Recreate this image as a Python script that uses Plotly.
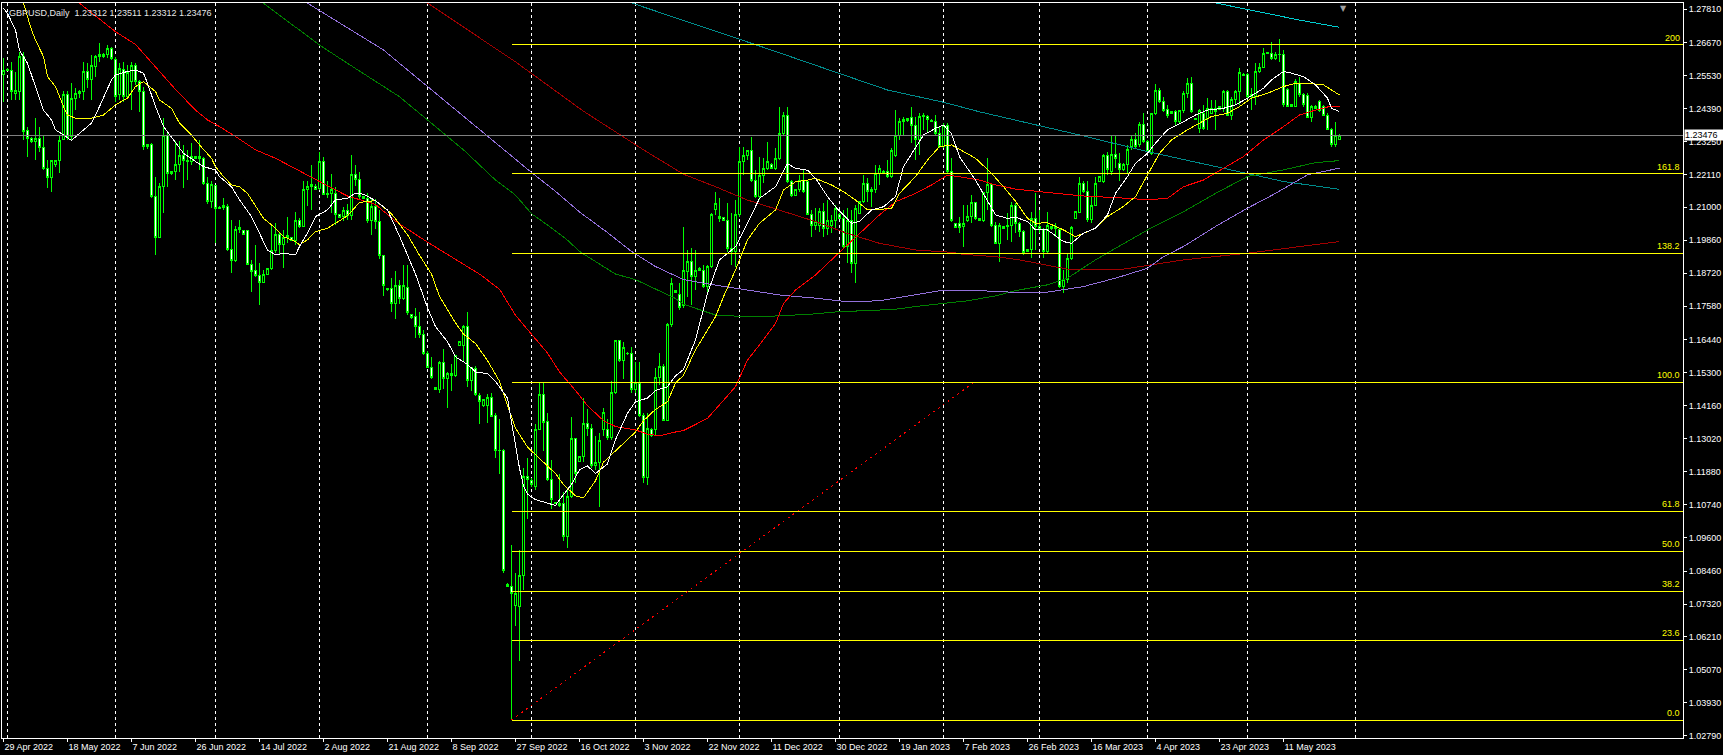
import plotly.graph_objects as go

# ---------------- candle data (bar index 0 = 29 Apr 2022, daily incl. Sunday bars) ----------------
open_ = [
1.2555,1.2572,1.2572,1.2492,1.2498,1.2618,1.2362,1.2337,1.2326,1.2337,
1.2306,1.2234,1.2203,1.2245,1.2259,1.2331,1.2488,1.2343,1.2475,1.2490,
1.2498,1.2567,1.2538,1.2584,1.2618,1.2624,1.2624,1.2647,1.2609,1.2486,
1.2575,1.2480,1.2532,1.2589,1.2532,1.2498,1.2310,1.2316,1.2136,1.1996,
1.2170,1.2348,1.2216,1.2222,1.2245,1.2276,1.2262,1.2257,1.2268,1.2274,
1.2268,1.2182,1.2119,1.2173,1.2096,1.2099,1.2102,1.1952,1.1916,1.2021,
1.2018,1.2018,1.1901,1.1881,1.1864,1.1841,1.1869,1.1889,1.1949,1.2004,
1.1970,1.1996,1.1996,1.1985,1.2053,1.2033,1.2161,1.2170,1.2170,1.2165,
1.2257,1.2142,1.2147,1.2147,1.2073,1.2066,1.2087,1.2070,1.2213,1.2196,
1.2135,1.2129,1.2053,1.2103,1.2051,1.1932,1.1820,1.1820,1.1766,1.1830,
1.1785,1.1824,1.1730,1.1724,1.1690,1.1662,1.1597,1.1548,1.1478,1.1473,
1.1565,1.1509,1.1526,1.1519,1.1623,1.1623,1.1688,1.1504,1.1545,1.1452,
1.1416,1.1416,1.1444,1.1383,1.1260,1.1263,1.0800,1.0794,1.0726,1.0723,
1.0832,1.1172,1.1157,1.1137,1.1335,1.1455,1.1361,1.1163,1.1081,1.1079,
1.1079,1.0966,1.1102,1.1302,1.1224,1.1241,1.1354,1.1338,1.1208,1.1221,
1.1335,1.1335,1.1306,1.1461,1.1639,1.1571,1.1597,1.1595,1.1470,1.1491,
1.1383,1.1169,1.1335,1.1332,1.1513,1.1552,1.1366,1.1694,1.1811,1.1798,
1.1760,1.1877,1.1912,1.1860,1.1889,1.1883,1.1826,1.1895,1.2090,1.2067,
1.2063,1.2055,1.1946,1.1946,1.2073,1.2256,1.2279,1.2296,1.2193,1.2136,
1.2210,1.2233,1.2248,1.2233,1.2268,1.2354,1.2417,1.2187,1.2141,1.2159,
1.2193,1.2187,1.2073,1.2038,1.2038,1.2084,1.2027,1.2038,1.2055,1.2073,
1.2061,1.1963,1.2055,1.1906,1.2078,1.2118,1.2182,1.2153,1.2159,1.2216,
1.2224,1.2222,1.2205,1.2279,1.2348,1.2394,1.2397,1.2409,1.2382,1.2331,
1.2411,1.2413,1.2397,1.2394,1.2354,1.2308,1.2382,1.2222,1.2044,1.2044,
1.2032,1.2055,1.2069,1.2115,1.2061,1.2053,1.2149,1.2176,1.2038,1.1975,
1.2032,1.2032,1.2038,1.2107,1.2044,1.2015,1.1947,1.1955,1.2061,1.2033,
1.2021,1.1947,1.2033,1.2027,1.2023,1.1826,1.1849,1.1924,1.2061,1.2081,
1.2180,1.2153,1.2056,1.2107,1.2188,1.2188,1.2276,1.2222,1.2280,1.2251,
1.2228,1.2245,1.2308,1.2331,1.2314,1.2386,1.2326,1.2285,1.2421,1.2500,
1.2463,1.2437,1.2429,1.2429,1.2394,1.2432,1.2492,1.2524,1.2406,1.2371,
1.2423,1.2406,1.2423,1.2440,1.2437,1.2440,1.2498,1.2417,1.2469,1.2498,
1.2557,1.2555,1.2480,1.2480,1.2567,1.2581,1.2630,1.2630,1.2612,1.2624,
1.2627,1.2506,1.2452,1.2448,1.2526,1.2486,1.2483,1.2409,1.2440,1.2463,
1.2448,1.2417,1.2368,1.2316,1.23312]

high = [
1.2612,1.2580,1.2601,1.2565,1.2635,1.2635,1.2377,1.2340,1.2406,1.2377,
1.2343,1.2262,1.2262,1.2262,1.2343,1.2498,1.2498,1.2526,1.2509,1.2503,
1.2601,1.2595,1.2624,1.2624,1.2664,1.2630,1.2658,1.2650,1.2618,1.2595,
1.2601,1.2589,1.2601,1.2597,1.2538,1.2515,1.2316,1.2320,1.2205,1.2182,
1.2406,1.2354,1.2225,1.2326,1.2326,1.2314,1.2297,1.2320,1.2276,1.2331,
1.2274,1.2205,1.2188,1.2176,1.2102,1.2130,1.2110,1.2056,1.2033,1.2056,
1.2021,1.2021,1.1918,1.1970,1.1906,1.1883,1.1889,1.2033,1.2044,1.2015,
1.2021,1.2067,1.1998,1.2084,1.2061,1.2188,1.2188,1.2245,1.2178,1.2291,
1.2274,1.2188,1.2214,1.2170,1.2075,1.2100,1.2110,1.2278,1.2245,1.2219,
1.2138,1.2148,1.2129,1.2129,1.2090,1.1934,1.1822,1.1856,1.1880,1.1850,
1.1902,1.1902,1.1733,1.1753,1.1737,1.1675,1.1604,1.1584,1.1481,1.1571,
1.1610,1.1532,1.1558,1.1591,1.1636,1.1694,1.1737,1.1548,1.1552,1.1461,
1.1440,1.1455,1.1461,1.1390,1.1370,1.1266,1.0805,1.0936,1.0838,1.0917,
1.1202,1.1234,1.1165,1.1351,1.1494,1.1495,1.1390,1.1228,1.1085,1.1182,
1.1118,1.1131,1.1377,1.1306,1.1241,1.1442,1.1403,1.1351,1.1312,1.1322,
1.1409,1.1370,1.1500,1.1643,1.1639,1.1636,1.1600,1.1617,1.1565,1.1565,
1.1390,1.1390,1.1340,1.1545,1.1597,1.1558,1.1701,1.1856,1.1815,1.1837,
1.2031,1.1952,1.1958,1.1952,1.1892,1.1900,1.1900,1.2078,1.2153,1.2130,
1.2065,1.2113,1.2078,1.2124,1.2308,1.2308,1.2298,1.2342,1.2227,1.2273,
1.2268,1.2325,1.2250,1.2302,1.2446,1.2428,1.2446,1.2193,1.2160,1.2210,
1.2227,1.2193,1.2090,1.2095,1.2095,1.2113,1.2124,1.2073,1.2107,1.2080,
1.2090,1.2095,1.2090,1.2107,1.2120,1.2210,1.2199,1.2170,1.2245,1.2245,
1.2226,1.2262,1.2302,1.2434,1.2405,1.2411,1.2407,1.2446,1.2411,1.2423,
1.2423,1.2417,1.2402,1.2417,1.2377,1.2388,1.2388,1.2268,1.2046,1.2067,
1.2107,1.2107,1.2141,1.2118,1.2063,1.2153,1.2268,1.2182,1.2050,1.2046,
1.2034,1.2078,1.2118,1.2113,1.2050,1.2021,1.1955,1.2084,1.2147,1.2090,
1.2027,1.2084,1.2035,1.2046,1.2027,1.1883,1.1941,1.2033,1.2084,1.2205,
1.2188,1.2188,1.2135,1.2205,1.2205,1.2283,1.2291,1.2343,1.2343,1.2285,
1.2251,1.2314,1.2348,1.2354,1.2394,1.2423,1.2330,1.2423,1.2523,1.2509,
1.2480,1.2452,1.2431,1.2434,1.2434,1.2498,1.2544,1.2549,1.2408,1.2437,
1.2452,1.2475,1.2469,1.2469,1.2448,1.2503,1.2503,1.2480,1.2503,1.2578,
1.2560,1.2561,1.2509,1.2595,1.2595,1.2647,1.2634,1.2668,1.2635,1.2678,
1.2641,1.2509,1.2454,1.2540,1.2549,1.2492,1.2492,1.2452,1.2450,1.2469,
1.2452,1.2423,1.2371,1.2394,1.23511]

low = [
1.2463,1.2569,1.2469,1.2469,1.2469,1.2331,1.2274,1.2322,1.2262,1.2291,
1.2228,1.2165,1.2153,1.2239,1.2216,1.2331,1.2331,1.2331,1.2434,1.2475,
1.2469,1.2509,1.2469,1.2549,1.2601,1.2615,1.2612,1.2607,1.2463,1.2469,
1.2463,1.2475,1.2434,1.2521,1.2429,1.2297,1.2300,1.2130,1.1935,1.1993,
1.2079,1.2170,1.2210,1.2193,1.2222,1.2165,1.2193,1.2245,1.2265,1.2228,
1.2176,1.2110,1.2096,1.1975,1.2093,1.2090,1.1947,1.1872,1.1912,1.2010,
1.2002,1.1901,1.1809,1.1860,1.1763,1.1838,1.1866,1.1883,1.1941,1.1935,
1.1889,1.1975,1.1985,1.1970,1.2027,1.2030,1.2102,1.2090,1.2159,1.2159,
1.2142,1.2130,1.2079,1.2038,1.2061,1.2051,1.2055,1.2057,1.2174,1.2129,
1.2129,1.2044,1.2005,1.2025,1.1921,1.1792,1.1812,1.1740,1.1716,1.1766,
1.1779,1.1727,1.1715,1.1650,1.1649,1.1591,1.1545,1.1506,1.1470,1.1461,
1.1474,1.1409,1.1468,1.1513,1.1620,1.1571,1.1481,1.1468,1.1448,1.1351,
1.1410,1.1357,1.1377,1.1234,1.1182,1.0839,1.0792,1.0334,1.0658,1.0537,
1.0781,1.1027,1.1137,1.1124,1.1332,1.1260,1.1157,1.1059,1.1076,1.1066,
1.0949,1.0926,1.1098,1.1150,1.1222,1.1221,1.1312,1.1202,1.1195,1.1066,
1.1312,1.1299,1.1299,1.1455,1.1565,1.1506,1.1590,1.1461,1.1461,1.1377,
1.1150,1.1144,1.1309,1.1312,1.1487,1.1364,1.1364,1.1688,1.1805,1.1746,
1.1751,1.1791,1.1763,1.1814,1.1880,1.1820,1.1808,1.1889,1.2073,1.2050,
1.2053,1.1946,1.1900,1.1895,1.2067,1.2210,1.2262,1.2187,1.2130,1.2124,
1.2182,1.2227,1.2233,1.2227,1.2262,1.2348,1.2182,1.2136,1.2141,1.2153,
1.2147,1.2073,1.1998,1.2021,1.2015,1.1998,1.2004,1.2009,1.2021,1.2061,
1.1958,1.1906,1.1872,1.1837,1.2075,1.2113,1.2118,1.2101,1.2147,1.2176,
1.2214,1.2199,1.2199,1.2273,1.2331,1.2348,1.2394,1.2319,1.2262,1.2279,
1.2365,1.2354,1.2392,1.2348,1.2302,1.2302,1.2216,1.2050,1.2030,1.2009,
1.1963,1.2050,1.2044,1.2055,1.2053,1.2050,1.2090,1.2032,1.1973,1.1912,
1.2027,1.1987,1.1981,1.2009,1.1998,1.1935,1.1945,1.1924,1.1952,1.2010,
1.1924,1.1941,1.2021,1.1998,1.1820,1.1803,1.1838,1.1918,1.2058,1.2079,
1.2147,1.2050,1.2044,1.2102,1.2186,1.2182,1.2211,1.2211,1.2234,1.2188,
1.2225,1.2216,1.2297,1.2302,1.2308,1.2320,1.2283,1.2280,1.2417,1.2457,
1.2429,1.2406,1.2420,1.2383,1.2389,1.2423,1.2475,1.2423,1.2400,1.2354,
1.2366,1.2366,1.2423,1.2366,1.2434,1.2429,1.2412,1.2400,1.2452,1.2452,
1.2550,1.2475,1.2434,1.2452,1.2561,1.2578,1.2628,1.2607,1.2607,1.2601,
1.2446,1.2443,1.2446,1.2446,1.2480,1.2446,1.2406,1.2394,1.2438,1.2429,
1.2412,1.2366,1.2308,1.2308,1.23312]

close = [
1.2572,1.2575,1.2498,1.2503,1.2618,1.2360,1.2337,1.2326,1.2337,1.2306,
1.2234,1.2203,1.2259,1.2259,1.2328,1.2486,1.2340,1.2475,1.2490,1.2498,
1.2567,1.2538,1.2589,1.2618,1.2627,1.2618,1.2647,1.2610,1.2480,1.2578,
1.2480,1.2563,1.2589,1.2532,1.2498,1.2308,1.2314,1.2136,1.1996,1.2170,
1.2348,1.2216,1.2222,1.2245,1.2276,1.2262,1.2257,1.2274,1.2274,1.2268,
1.2182,1.2119,1.2176,1.2096,1.2099,1.2104,1.1952,1.1916,1.2021,1.2030,
1.2004,1.1901,1.1878,1.1864,1.1841,1.1869,1.1889,1.1949,1.2004,1.1970,
1.1996,1.2002,1.1985,1.2053,1.2033,1.2161,1.2170,1.2178,1.2159,1.2257,
1.2142,1.2147,1.2159,1.2073,1.2065,1.2087,1.2070,1.2213,1.2196,1.2135,
1.2129,1.2053,1.2103,1.2051,1.1934,1.1830,1.1815,1.1766,1.1830,1.1785,
1.1830,1.1737,1.1720,1.1690,1.1662,1.1597,1.1548,1.1513,1.1473,1.1565,
1.1509,1.1526,1.1519,1.1587,1.1636,1.1688,1.1504,1.1548,1.1455,1.1429,
1.1438,1.1444,1.1379,1.1260,1.1263,1.0848,1.0794,1.0768,1.0769,1.0832,
1.1172,1.1163,1.1145,1.1335,1.1455,1.1357,1.1163,1.1092,1.1079,1.1072,
1.0966,1.1102,1.1302,1.1182,1.1241,1.1354,1.1338,1.1208,1.1221,1.1297,
1.1392,1.1306,1.1461,1.1639,1.1571,1.1617,1.1595,1.1470,1.1494,1.1383,
1.1169,1.1338,1.1312,1.1513,1.1552,1.1366,1.1694,1.1837,1.1805,1.1753,
1.1882,1.1912,1.1860,1.1883,1.1883,1.1826,1.1895,1.2073,1.2113,1.2061,
1.2055,1.1958,1.1958,1.2073,1.2256,1.2279,1.2296,1.2193,1.2136,1.2210,
1.2233,1.2256,1.2233,1.2268,1.2354,1.2417,1.2187,1.2141,1.2159,1.2193,
1.2153,1.2073,1.2038,1.2050,1.2084,1.2027,1.2055,1.2055,1.2095,1.2061,
1.1963,1.2055,1.1906,1.2095,1.2118,1.2182,1.2153,1.2159,1.2216,1.2233,
1.2216,1.2205,1.2296,1.2348,1.2394,1.2400,1.2405,1.2382,1.2331,1.2411,
1.2417,1.2400,1.2394,1.2354,1.2308,1.2382,1.2222,1.2055,1.2030,1.2030,
1.2044,1.2069,1.2115,1.2061,1.2053,1.2149,1.2176,1.2038,1.1975,1.2038,
1.2027,1.2038,1.2107,1.2044,1.2015,1.1945,1.1955,1.2061,1.2033,1.2021,
1.1947,1.2038,1.2027,1.2033,1.1826,1.1849,1.1924,1.2030,1.2084,1.2180,
1.2153,1.2056,1.2107,1.2180,1.2205,1.2276,1.2228,1.2280,1.2268,1.2228,
1.2245,1.2297,1.2331,1.2308,1.2386,1.2326,1.2290,1.2421,1.2500,1.2463,
1.2434,1.2417,1.2423,1.2394,1.2432,1.2492,1.2524,1.2429,1.2400,1.2434,
1.2371,1.2440,1.2440,1.2429,1.2446,1.2498,1.2417,1.2471,1.2498,1.2563,
1.2552,1.2480,1.2486,1.2567,1.2581,1.2630,1.2632,1.2612,1.2624,1.2627,
1.2452,1.2446,1.2448,1.2532,1.2486,1.2452,1.2409,1.2446,1.2446,1.2434,
1.2414,1.2368,1.2316,1.2348,1.23476]

# ---------------- moving averages (bar index, price) ----------------
white_idx = [0,1,3,4,6,8,10,12,13,15,17,19,22,24,27,28,31,33,35,36,38,40,43,45,48,50,53,54,57,59,62,64,66,68,70,73,74,76,78,81,83,86,88,90,93,96,99,103,106,108,111,113,116,118,121,123,126,127,128,129,130,131,133,135,138,139,142,144,146,148,151,153,156,158,161,163,166,168,170,173,176,179,183,186,189,193,196,198,201,203,206,208,212,214,217,220,223,225,228,230,233,235,237,239,243,246,248,251,253,256,258,261,265,267,270,273,276,278,281,283,286,288,291,295,298,301,305,308,311,315,317,320,322,325,328,331,332,334]
white_val = [1.2785,1.2767,1.2710,1.2640,1.2595,1.2515,1.2434,1.2400,1.2366,1.2348,1.2329,1.2354,1.2389,1.2446,1.2538,1.2555,1.2567,1.2572,1.2561,1.2526,1.2446,1.2377,1.2320,1.2285,1.2257,1.2239,1.2228,1.2205,1.2170,1.2125,1.2067,1.2010,1.1952,1.1935,1.1941,1.1935,1.1964,1.2010,1.2067,1.2090,1.2125,1.2130,1.2148,1.2144,1.2122,1.2090,1.2000,1.1869,1.1753,1.1688,1.1636,1.1584,1.1558,1.1532,1.1526,1.1500,1.1442,1.1360,1.1280,1.1200,1.1140,1.1111,1.1092,1.1085,1.1072,1.1092,1.1144,1.1195,1.1208,1.1182,1.1215,1.1299,1.1390,1.1429,1.1442,1.1468,1.1481,1.1519,1.1540,1.1642,1.1803,1.1918,1.1963,1.2044,1.2130,1.2170,1.2250,1.2233,1.2227,1.2199,1.2136,1.2101,1.2044,1.2050,1.2090,1.2101,1.2136,1.2239,1.2302,1.2348,1.2371,1.2382,1.2354,1.2273,1.2193,1.2124,1.2073,1.2061,1.2065,1.2050,1.2021,1.2021,1.1981,1.1975,1.2010,1.2027,1.2073,1.2147,1.2205,1.2251,1.2285,1.2320,1.2366,1.2394,1.2417,1.2434,1.2440,1.2452,1.2475,1.2509,1.2538,1.2567,1.2561,1.2549,1.2521,1.2475,1.2440,1.2429]

yellow_idx = [5,7,8,10,11,13,15,16,18,22,25,28,31,33,35,36,38,39,42,44,47,49,52,53,55,57,59,61,63,65,68,70,73,74,76,78,81,83,86,89,93,97,101,104,107,109,113,115,118,121,124,126,128,131,134,138,140,143,145,148,150,153,155,158,160,163,166,168,170,173,178,180,183,186,189,193,195,198,201,203,207,210,213,216,219,222,224,228,231,234,237,240,243,247,250,253,256,258,261,265,268,271,273,276,280,283,286,289,292,296,299,302,306,309,312,316,320,323,326,330,332,334]
yellow_val = [1.2802,1.2710,1.2675,1.2618,1.2549,1.2515,1.2446,1.2417,1.2406,1.2406,1.2417,1.2452,1.2475,1.2515,1.2532,1.2521,1.2498,1.2469,1.2440,1.2389,1.2348,1.2314,1.2268,1.2239,1.2205,1.2176,1.2170,1.2147,1.2102,1.2061,1.2027,1.1998,1.1981,1.1970,1.1987,1.2015,1.2027,1.2044,1.2070,1.2116,1.2122,1.2077,1.2005,1.1934,1.1869,1.1792,1.1701,1.1662,1.1630,1.1571,1.1500,1.1416,1.1338,1.1273,1.1234,1.1182,1.1144,1.1105,1.1098,1.1157,1.1221,1.1260,1.1286,1.1325,1.1364,1.1403,1.1429,1.1494,1.1520,1.1608,1.1722,1.1791,1.1883,1.1987,1.2044,1.2090,1.2159,1.2187,1.2193,1.2199,1.2176,1.2153,1.2124,1.2090,1.2092,1.2095,1.2147,1.2205,1.2262,1.2308,1.2314,1.2291,1.2268,1.2216,1.2170,1.2120,1.2061,1.2044,1.2046,1.2021,1.1998,1.2015,1.2027,1.2067,1.2102,1.2136,1.2211,1.2285,1.2331,1.2366,1.2389,1.2412,1.2423,1.2446,1.2475,1.2492,1.2515,1.2526,1.2526,1.2521,1.2503,1.2486]

red_idx = [19,28,33,38,43,48,51,54,58,63,68,72,75,79,83,86,93,98,106,112,119,124,128,132,136,139,143,146,150,153,158,161,164,168,170,176,179,183,186,189,193,195,198,203,207,211,214,219,223,228,232,236,240,244,248,253,261,270,281,286,291,295,300,305,310,315,320,324,328,332,334]
red_val = [1.2802,1.2704,1.2660,1.2584,1.2505,1.2434,1.2400,1.2377,1.2343,1.2297,1.2268,1.2239,1.2216,1.2188,1.2159,1.2138,1.2109,1.2051,1.1979,1.1928,1.1869,1.1817,1.1727,1.1662,1.1597,1.1532,1.1468,1.1416,1.1364,1.1344,1.1332,1.1318,1.1312,1.1325,1.1330,1.1372,1.1418,1.1481,1.1573,1.1625,1.1699,1.1768,1.1814,1.1866,1.1918,1.1969,1.2009,1.2073,1.2118,1.2147,1.2176,1.2210,1.2202,1.2193,1.2176,1.2162,1.2150,1.2138,1.2130,1.2125,1.2130,1.2170,1.2193,1.2234,1.2274,1.2331,1.2377,1.2417,1.2434,1.2448,1.2448]

maroon_idx = [106,128,145,160,170,178,186,194,203,211,219,228,237,240,248,254,266,280,295,311,334]
maroon_val = [1.2803,1.2600,1.2430,1.2297,1.2213,1.2170,1.2124,1.2090,1.2050,1.2009,1.1975,1.1952,1.1944,1.1937,1.1929,1.1918,1.1886,1.1886,1.1918,1.1941,1.1981]

green_idx = [65,74,79,86,99,115,119,123,128,132,136,141,144,149,153,158,163,168,170,178,186,194,203,209,216,223,229,235,241,248,253,261,266,273,280,286,295,303,311,320,328,334]
green_val = [1.2802,1.2710,1.2658,1.2595,1.2480,1.2297,1.2245,1.2193,1.2141,1.2077,1.2038,1.1986,1.1947,1.1902,1.1869,1.1850,1.1817,1.1785,1.1765,1.1728,1.1722,1.1725,1.1732,1.1740,1.1743,1.1748,1.1759,1.1768,1.1777,1.1794,1.1812,1.1832,1.1855,1.1918,1.1975,1.2021,1.2084,1.2147,1.2205,1.2228,1.2253,1.2260]

purple_idx = [76,87,95,99,125,132,138,144,151,157,163,170,178,186,194,203,211,219,228,235,244,253,261,270,278,286,290,295,303,311,318,326,334]
purple_val = [1.2802,1.2710,1.2641,1.2595,1.2297,1.2219,1.2154,1.2083,1.2012,1.1947,1.1895,1.1850,1.1831,1.1814,1.1797,1.1786,1.1774,1.1777,1.1797,1.1814,1.1812,1.1806,1.1807,1.1826,1.1855,1.1889,1.1929,1.1964,1.2033,1.2096,1.2147,1.2211,1.2234]

teal_idx = [157,190,221,235,244,253,270,286,303,320,334]
teal_val = [1.2803,1.2650,1.2503,1.2461,1.2428,1.2400,1.2345,1.2291,1.2239,1.2188,1.2161]

cyan_idx = [303,324,334]
cyan_val = [1.2803,1.2744,1.2719]

# ---------------- axes ----------------
x_tick_idx = [0,16,32,48,64,80,96,112,128,144,160,176,192,208,224,240,256,272,288,304,320]
x_tick_text = ["29 Apr 2022","18 May 2022","7 Jun 2022","26 Jun 2022","14 Jul 2022","2 Aug 2022",
               "21 Aug 2022","8 Sep 2022","27 Sep 2022","16 Oct 2022","3 Nov 2022","22 Nov 2022",
               "11 Dec 2022","30 Dec 2022","19 Jan 2023","7 Feb 2023","26 Feb 2023","16 Mar 2023",
               "4 Apr 2023","23 Apr 2023","11 May 2023"]
month_start_idx = [1,28,53,79,106,132,158,184,209,235,259,286,311,338]
y_tick_text = ["1.02790","1.03930","1.05070","1.06210","1.07320","1.08460","1.09600","1.10740",
               "1.11880","1.13020","1.14160","1.15300","1.16440","1.17580","1.18720","1.19860",
               "1.21000","1.22110","1.23250","1.24390","1.25530","1.26670","1.27810"]
y_tick_vals = [float(t) for t in y_tick_text]

# ---------------- fibonacci object ----------------
fib_low, fib_high = 1.0333, 1.1496
fib_t_low, fib_t_high = 127, 242.6
fib_ratios = [0.0, 23.6, 38.2, 50.0, 61.8, 100.0, 138.2, 161.8, 200.0]
fib_labels = ["0.0", "23.6", "38.2", "50.0", "61.8", "100.0", "138.2", "161.8", "200"]

last_price = 1.23476
shift_marker_idx = 335
title_text = "GBPUSD,Daily  1.23312 1.23511 1.23312 1.23476"

# ---------------- figure ----------------
W, H = 1723, 755
X_RANGE = [-0.375, 419.875]
Y_RANGE = [1.02710, 1.28028]
FONT = "Liberation Sans"

fig = go.Figure()
fig.add_trace(go.Candlestick(
    x=list(range(len(open_))), open=open_, high=high, low=low, close=close,
    increasing=dict(line=dict(color="#00FF00", width=1), fillcolor="#000000"),
    decreasing=dict(line=dict(color="#00FF00", width=1), fillcolor="#FFFFFF"),
    whiskerwidth=0, hoverinfo="skip", showlegend=False))

for xs, ys, col in [(maroon_idx, maroon_val, "#A00000"), (teal_idx, teal_val, "#008B8B"),
                    (cyan_idx, cyan_val, "#00CED1"), (green_idx, green_val, "#008000"),
                    (purple_idx, purple_val, "#9370DB"), (red_idx, red_val, "#FF0000"),
                    (yellow_idx, yellow_val, "#FFFF00"), (white_idx, white_val, "#FFFFFF")]:
    fig.add_trace(go.Scatter(x=xs, y=ys, mode="lines", line=dict(color=col, width=1),
                             hoverinfo="skip", showlegend=False))

shapes = []
for m in month_start_idx:
    shapes.append(dict(type="line", xref="x", yref="paper", x0=m, x1=m, y0=0, y1=1,
                       line=dict(color="#FFFFFF", width=1, dash="3px,3px"), layer="below"))
shapes.append(dict(type="line", xref="paper", yref="y", x0=0, x1=1, y0=last_price, y1=last_price,
                   line=dict(color="#808080", width=1)))
annotations = []
for r, lab in zip(fib_ratios, fib_labels):
    lvl = fib_low + (fib_high - fib_low) * r / 100.0
    shapes.append(dict(type="line", xref="x", yref="y", x0=fib_t_low, x1=X_RANGE[1], y0=lvl, y1=lvl,
                       line=dict(color="#FFFF00", width=1)))
    annotations.append(dict(xref="paper", yref="y", x=1, y=lvl, xanchor="right", yanchor="bottom",
                            text=lab, showarrow=False, xshift=-1, yshift=0,
                            font=dict(family=FONT, size=9, color="#FFFF00")))
shapes.append(dict(type="line", xref="x", yref="y", x0=fib_t_low, y0=fib_low, x1=fib_t_high, y1=fib_high,
                   line=dict(color="#FF0000", width=1, dash="2px,4px")))

annotations.append(dict(xref="paper", yref="y", x=1, y=last_price, xanchor="left", yanchor="middle",
                        text=last_price.__format__(".5f"), showarrow=False, xshift=1, bgcolor="#FFFFFF",
                        borderpad=0, width=38, align="left",
                        font=dict(family=FONT, size=9, color="#000000")))
annotations.append(dict(xref="paper", yref="paper", x=0, y=1, xanchor="left", yanchor="top",
                        text=title_text, showarrow=False, xshift=5, yshift=-3,
                        font=dict(family=FONT, size=9, color="#E6E6E6")))
annotations.append(dict(xref="x", yref="paper", x=shift_marker_idx, y=1, xanchor="center", yanchor="top",
                        text="\u25BC", showarrow=False, yshift=1,
                        font=dict(family="DejaVu Sans", size=8, color="#A0A0A0")))

fig.update_layout(
    width=W, height=H, autosize=False,
    margin=dict(l=2, r=40, t=3, b=17, pad=0),
    paper_bgcolor="#000000", plot_bgcolor="#000000",
    font=dict(family=FONT, size=9, color="#FFFFFF"),
    showlegend=False, shapes=shapes, annotations=annotations,
    xaxis=dict(range=X_RANGE, showgrid=False, zeroline=False, showline=True, linecolor="#FFFFFF",
               linewidth=1, mirror=True, ticks="outside", ticklen=3, tickcolor="#FFFFFF", tickwidth=1,
               tickvals=x_tick_idx, ticktext=x_tick_text, ticklabelposition="outside right",
               tickfont=dict(family=FONT, size=9, color="#FFFFFF"), rangeslider=dict(visible=False),
               fixedrange=True),
    yaxis=dict(range=Y_RANGE, side="right", showgrid=False, zeroline=False, showline=True,
               linecolor="#FFFFFF", linewidth=1, mirror=True, ticks="outside", ticklen=3,
               tickcolor="#FFFFFF", tickwidth=1, tickvals=y_tick_vals, ticktext=y_tick_text,
               tickfont=dict(family=FONT, size=9, color="#FFFFFF"), fixedrange=True),
)

crisp_js = (
    "document.body.style.margin='0';document.body.style.overflow='hidden';"
    "document.body.style.background='#000';"
    "document.querySelectorAll('.main-svg path').forEach(function(p){p.style.shapeRendering='crispEdges';});"
)
fig.write_html("out.html", config={"displayModeBar": False, "staticPlot": True}, post_script=crisp_js)
